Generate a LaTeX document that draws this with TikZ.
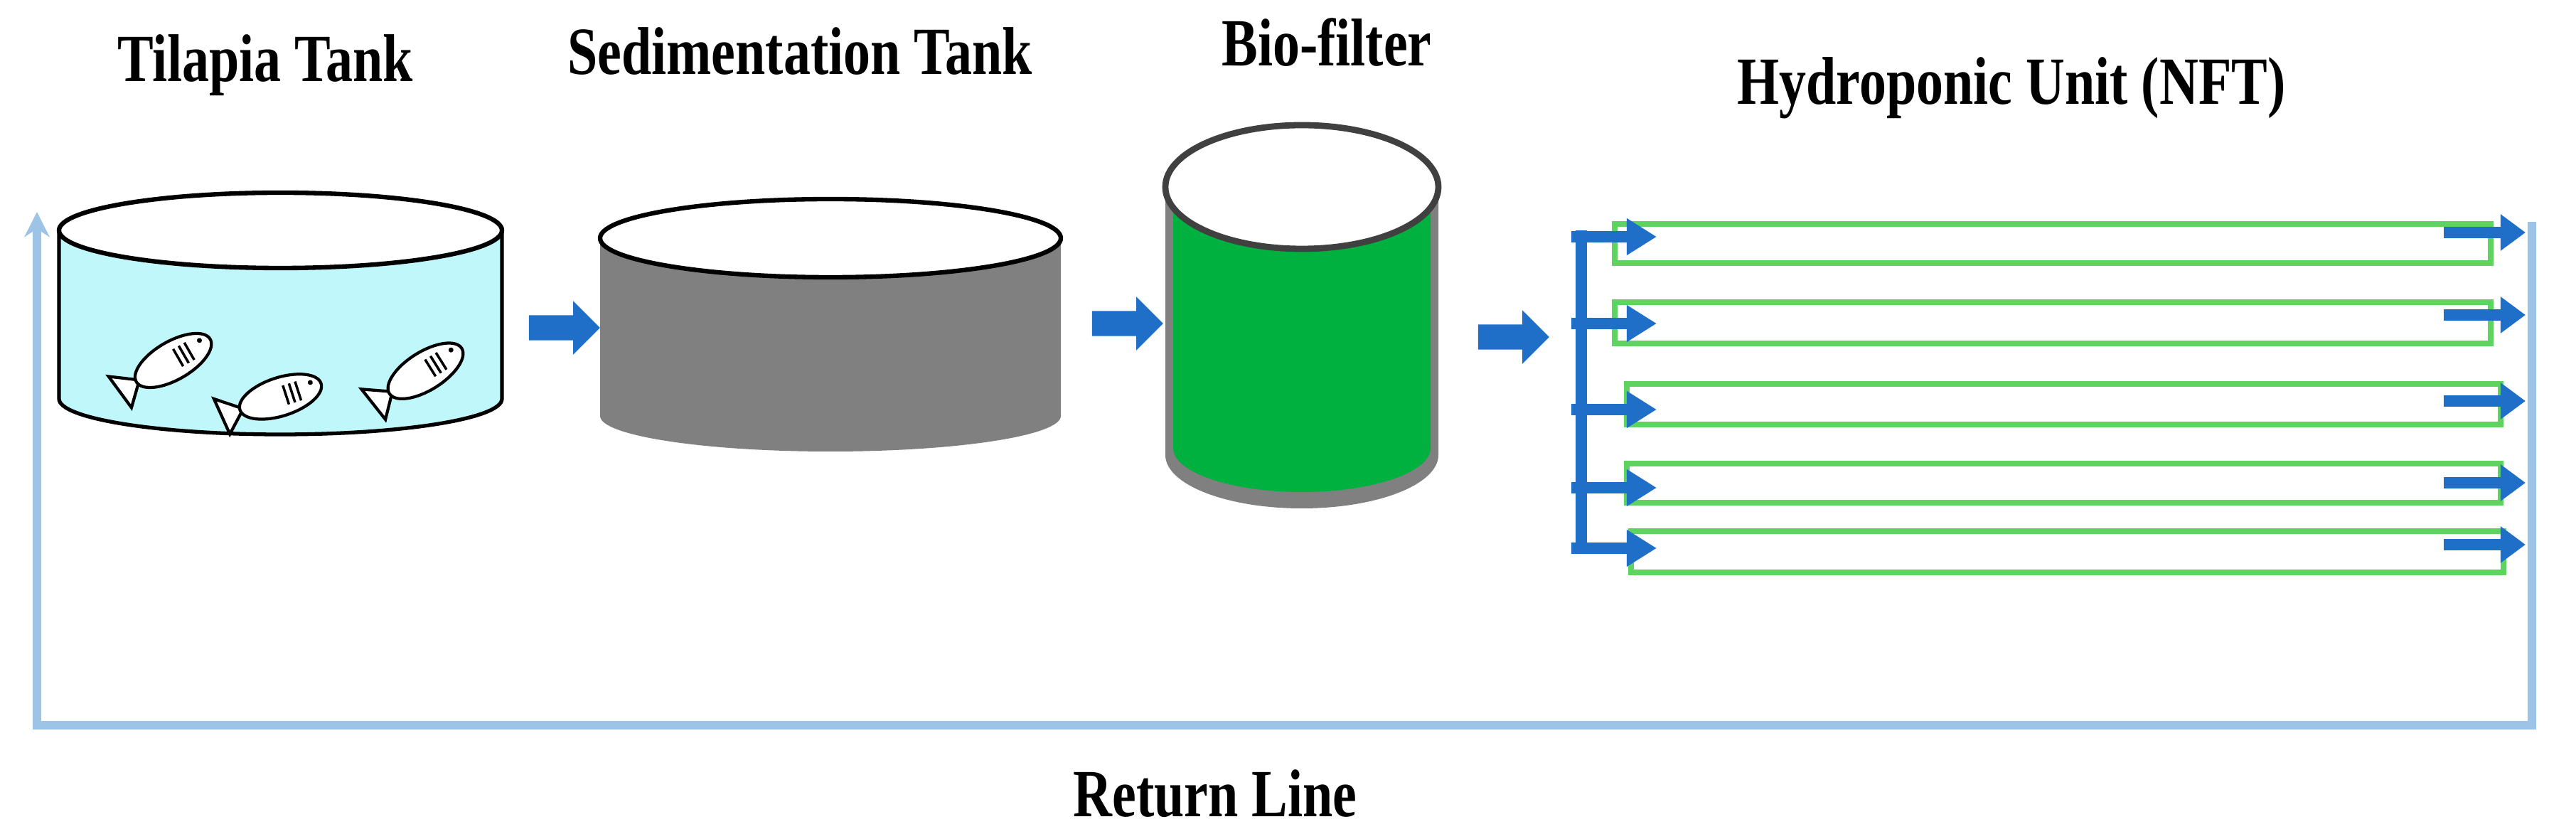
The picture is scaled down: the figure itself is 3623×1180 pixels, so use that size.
\documentclass[tikz,border=0pt]{standalone}
\usepackage{fontspec}
\setmainfont{Liberation Serif}
\usetikzlibrary{shapes.arrows,arrows.meta}
\definecolor{water}{HTML}{BFF7FA}
\definecolor{sludge}{HTML}{808080}
\definecolor{media}{HTML}{00B140}
\definecolor{flow}{HTML}{1F6FC9}
\definecolor{ret}{HTML}{9DC3E6}
\definecolor{channel}{HTML}{5FD35F}
\tikzset{
  title/.style={font=\bfseries\fontsize{27}{30}\selectfont, xscale=0.8, transform shape},
  blockarrow/.style={single arrow, fill=flow, draw=none, minimum height=1cm, inner xsep=0pt, inner ysep=0.17cm, single arrow head extend=0.2cm, single arrow head indent=0cm},
  nft/.style={draw=channel, line width=2.2pt},
  pipe/.style={flow, line width=4.5pt},
  returnline/.style={ret, line width=3.5pt}
}
% fish: body ellipse plus tail
\newcommand{\fishat}[3]{%
  \begin{scope}[shift={(#1,#2)}, rotate=#3]
    \draw[fill=white, line width=1.2pt] (-45,0) -- (-80,-26) -- (-74,28) -- cycle;
    \draw[fill=white, line width=1.2pt] (10,0) ellipse [x radius=60, y radius=27];
    \draw[line width=1pt] (18,-14) -- (18,14) (27,-14) -- (27,14) (36,-14) -- (36,14);
    \fill (56,-6) circle (3.5);
  \end{scope}}
\begin{document}
\begin{tikzpicture}[x=0.01cm, y=-0.01cm]
\useasboundingbox (0,0) rectangle (3623,1180);

% titles
\node[title] (ttank) at (373,92) {Tilapia Tank};
\node[title] (tsed) at (1125,72) {Sedimentation Tank};
\node[title] (tbio) at (1866,60) {Bio-filter};
\node[title] (thyd) at (2829,124) {Hydroponic Unit (NFT)};
\node[title] (tret) at (1709,1116) {Return Line};

% tilapia tank
\fill[water] (83,324) -- (83,561) arc[start angle=180, end angle=360, x radius=311.5, y radius=-50] -- (706,324) -- cycle;
\draw[line width=1.5pt] (83,324) -- (83,561) arc[start angle=180, end angle=360, x radius=311.5, y radius=-50] -- (706,324);
\draw[fill=white, line width=1.8pt] (394.5,324) ellipse [x radius=311.5, y radius=53];
\fishat{235}{512}{30}
\fishat{385}{561}{18}
\fishat{590}{527}{32}

% sedimentation tank
\fill[sludge] (844,335) -- (844,585) arc[start angle=180, end angle=360, x radius=324, y radius=-50] -- (1492,335) -- cycle;
\draw[fill=white, line width=1.8pt] (1168,335) ellipse [x radius=324, y radius=55];

% bio-filter
\fill[sludge] (1639,263) -- (1639,640) arc[start angle=180, end angle=360, x radius=192, y radius=-75] -- (2023,263) -- cycle;
\fill[media] (1650,300) -- (1650,630) arc[start angle=180, end angle=360, x radius=181, y radius=-62] -- (2012,300) -- cycle;
\draw[fill=white, draw=black!75, line width=2.5pt] (1831,263) ellipse [x radius=192, y radius=87];

% flow arrows between units
\node[blockarrow] (a1) at (785,461) {};
\node[blockarrow] (a2) at (1577,455) {};
\node[blockarrow] (a3) at (2120,474) {};

% NFT channels
\draw[nft] (2271,315) rectangle (3503,370);
\draw[nft] (2271,425) rectangle (3503,483);
\draw[nft] (2288,540) rectangle (3517,597);
\draw[nft] (2288,652) rectangle (3517,707);
\draw[nft] (2294,747) rectangle (3521,805);

% inlet manifold
\coordinate (mtop) at (2224,324);
\coordinate (mbot) at (2224,775);
\draw[pipe] (mtop) -- (mbot);
\foreach \y in {333,455,576,686,771}
  \draw[pipe, -{Triangle[length=12pt, width=14pt]}] (2210,\y) -- (2330,\y);
% outlets
\foreach \y in {327,443,564,679,766}
  \draw[pipe, -{Triangle[length=10pt, width=14pt]}] (3437,\y) -- (3552,\y);

% return line
\coordinate (rtop) at (3561,312);
\coordinate (rcor) at (3561,1020);
\coordinate (lcor) at (52,1020);
\coordinate (ltop) at (52,298);
\draw[returnline, -{Stealth[length=10pt, width=10pt]}] (rtop) -- (rcor) -- (lcor) -- (ltop);
\end{tikzpicture}
\end{document}
